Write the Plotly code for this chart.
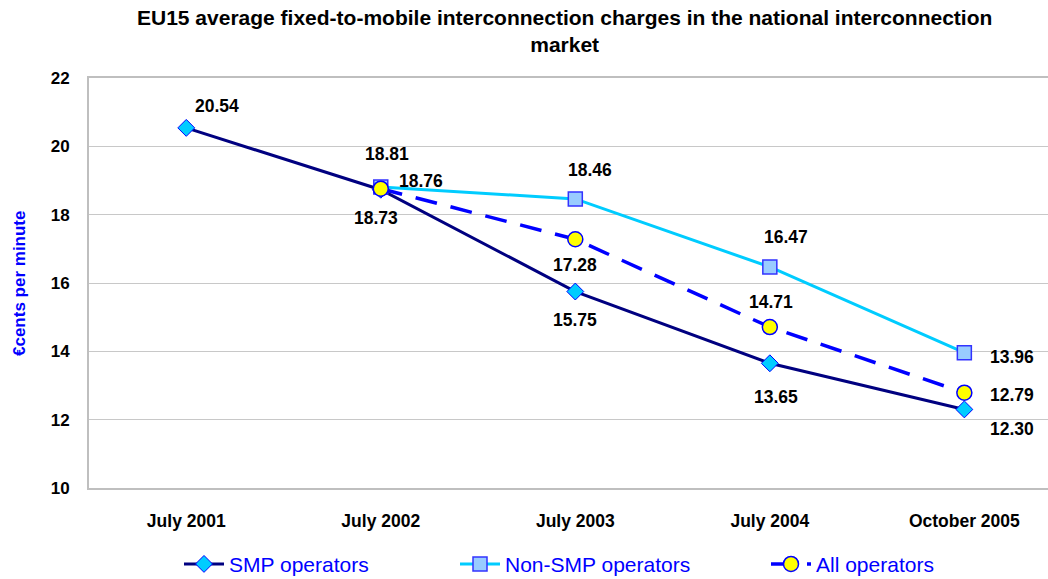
import plotly.graph_objects as go

categories = ["July 2001", "July 2002", "July 2003", "July 2004", "October 2005"]
smp = [20.54, 18.73, 15.75, 13.65, 12.30]
non_smp = [None, 18.81, 18.46, 16.47, 13.96]
all_ops = [None, 18.76, 17.28, 14.71, 12.79]
y_ticks = [10, 12, 14, 16, 18, 20, 22]

# label offsets (xshift, yshift) per point
smp_off = [(31, 22), (-5, -28), (0, -28), (6, -34), (48, -20)]
non_off = [None, (6, 33), (15, 29), (16, 30), (48, -4)]
all_off = [None, (40, 8), (0, -26), (1, 25), (48, -2)]

FONT = "Liberation Sans, Arial, sans-serif"

fig = go.Figure()
fig.add_trace(go.Scatter(
    x=categories, y=smp, name="SMP operators", mode="lines+markers", legend="legend",
    line=dict(color="#000080", width=3),
    marker=dict(symbol="diamond", size=13, color="#00CCFF", line=dict(color="#0000FF", width=1)),
))
fig.add_trace(go.Scatter(
    x=categories, y=non_smp, name="Non-SMP operators", mode="lines+markers", legend="legend2",
    line=dict(color="#00CCFF", width=3),
    marker=dict(symbol="square", size=14, color="#99CCFF", line=dict(color="#3333FF", width=1.5)),
))
fig.add_trace(go.Scatter(
    x=categories, y=all_ops, name="All operators", mode="lines+markers", legend="legend3",
    line=dict(color="#0000FF", width=3.5, dash="22px,14px"),
    marker=dict(symbol="circle", size=15, color="#FFFF00", line=dict(color="#0000FF", width=1.5)),
))

annotations = []
for series, offs in [(smp, smp_off), (non_smp, non_off), (all_ops, all_off)]:
    for c, v, o in zip(categories, series, offs):
        if v is None:
            continue
        annotations.append(dict(
            x=c, y=v, xref="x", yref="y", text=f"{v:.2f}", showarrow=False,
            xshift=o[0], yshift=o[1],
            font=dict(family=FONT, size=17.5, color="black", weight="bold"),
        ))

annotations.append(dict(
    text="EU15 average fixed-to-mobile interconnection charges in the national interconnection<br>market",
    xref="paper", yref="paper", x=(564 - 89) / 959, y=1 + (78 - 4) / 410,
    xanchor="center", yanchor="top", showarrow=False, align="center",
    font=dict(family=FONT, size=21, color="black", weight="bold"),
))
annotations.append(dict(
    text="€cents per minute", textangle=-90,
    xref="paper", yref="paper", x=-(89 - 19) / 959, y=(488 - 283) / 410,
    xanchor="center", yanchor="middle", showarrow=False,
    font=dict(family=FONT, size=17, color="#0000FF", weight="bold"),
))

leg_common = dict(
    orientation="h", y=-0.136, yanchor="top", xanchor="left",
    itemwidth=40, font=dict(family=FONT, size=21, color="#0000FF"),
    bgcolor="rgba(0,0,0,0)",
)

fig.update_layout(
    width=1048, height=579,
    paper_bgcolor="white", plot_bgcolor="white",
    margin=dict(l=89, r=0, t=78, b=91, autoexpand=False),
    xaxis=dict(
        type="category", range=[-0.5, 4.43],
        showgrid=False, showline=True, linecolor="#BFBFBF", linewidth=2, mirror=True,
        ticks="", tickfont=dict(family=FONT, size=17.5, color="black", weight="bold"),
        ticklabelstandoff=16,
    ),
    yaxis=dict(
        range=[10, 22], tickvals=y_ticks,
        showgrid=True, gridcolor="#C8C8C8", gridwidth=1,
        showline=True, linecolor="#BFBFBF", linewidth=2, zeroline=False,
        ticks="", ticklabelstandoff=14,
        tickfont=dict(family=FONT, size=17, color="black", weight="bold"),
    ),
    legend=dict(x=(179 - 89) / 959, **leg_common),
    legend2=dict(x=(455 - 89) / 959, **leg_common),
    legend3=dict(x=(766 - 89) / 959, **leg_common),
    annotations=annotations,
    showlegend=True,
)

fig.write_html(
    "out.html",
    config={"displayModeBar": False},
    post_script="document.body.style.margin='0';document.body.style.overflow='hidden';",
)
